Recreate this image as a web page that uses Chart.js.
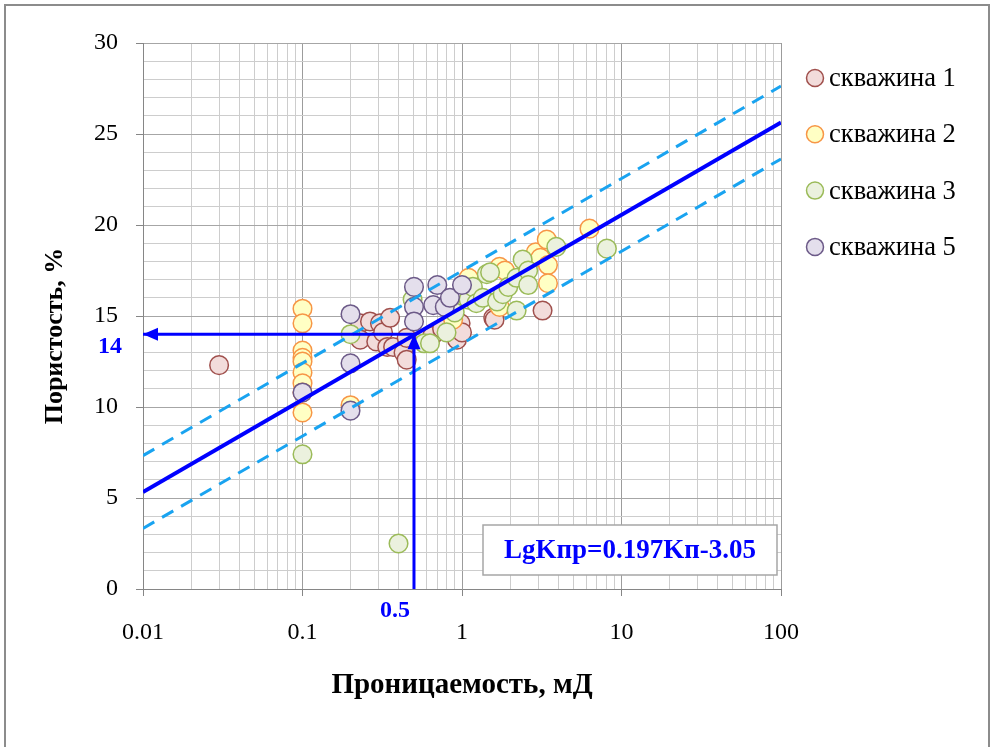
<!DOCTYPE html>
<html><head><meta charset="utf-8">
<script src="https://cdn.jsdelivr.net/npm/chart.js@4"></script>
<style>
html,body{margin:0;padding:0;background:#fff;overflow:hidden;}
#frame{position:absolute;left:4px;top:4px;width:986px;height:780px;border:2px solid #8c8c8c;box-sizing:border-box;}
#wrap{position:absolute;left:0;top:0;width:993px;height:747px;}
</style></head><body>
<div id="frame"></div>
<div id="wrap"><canvas id="c" width="993" height="747"></canvas></div>
<script>
// ---- data (permeability K, mD ; porosity P, %) ----
const well1K = [0.03,0.23,0.23,0.265,0.29,0.306,0.32,0.34,0.354,0.37,0.43,0.45,0.45,0.65,0.75,0.93,0.98,1.0,1.57,1.6,3.2];
const well1P = [12.3,14.6,13.7,14.7,13.6,14.6,14.1,13.3,14.9,13.3,13.0,12.6,13.8,13.9,14.3,13.7,14.6,14.1,14.9,14.8,15.3];
const well2K = [0.1,0.1,0.1,0.1,0.1,0.1,0.1,0.1,0.1,0.2,0.88,1.1,1.72,1.86,1.72,2.4,2.9,3.1,3.4,3.46,3.46,6.3];
const well2P = [15.4,14.6,13.1,12.7,12.5,11.9,11.3,10.8,9.7,10.1,14.8,17.1,17.7,17.5,15.5,17.2,18.5,18.2,19.2,17.8,16.8,19.8];
const well3K = [0.1,0.2,0.4,0.49,0.58,0.63,0.8,0.9,1.1,1.17,1.23,1.35,1.43,1.5,1.66,1.8,1.95,2.2,2.2,2.4,2.6,2.6,3.9,8.1];
const well3P = [7.4,14.0,2.5,15.9,13.5,13.5,14.1,15.2,15.9,16.6,15.7,16.0,17.3,17.4,15.8,16.2,16.6,17.1,15.3,18.1,17.5,16.7,18.8,18.7];
const well5K = [0.1,0.2,0.2,0.2,0.5,0.5,0.5,0.66,0.7,0.78,0.84,1.0];
const well5P = [10.8,15.1,12.4,9.8,16.6,15.5,14.7,15.6,16.7,15.5,16.0,16.7];
const wellNames = ['скважина 1','скважина 2','скважина 3','скважина 5'];
// regression LgKпр = 0.197Kп - 3.05 and ±2% band, end points
const fitK = [0.01, 100];
const fitP = [5.33, 25.63];
const upperP = [7.33, 27.63];
const lowerP = [3.33, 23.63];
// reading example: K = 0.5 -> Kп = 14
const readHK = [0.5, 0.01], readHP = [14, 14];
const readVK = [0.5, 0.5],  readVP = [0, 14];
const decadeTicks = [0.01, 0.1, 1, 10, 100];
const minorMult = [2,3,4,5,6,7,8,9];
const equationText = 'LgKпр=0.197Kп-3.05';
const yTitle = 'Пористость, %';
const xTitle = 'Проницаемость, мД';

const pts = (k, p) => k.map((x, i) => ({x: x, y: p[i]}));
const isDecade = v => Math.abs(Math.log10(v) - Math.round(Math.log10(v))) < 1e-6;
const xTickVals = [];
decadeTicks.forEach((d, i) => { xTickVals.push(d); if (i < decadeTicks.length - 1) minorMult.forEach(m => xTickVals.push(d * m)); });

const wellStyles = [
  {bg:'#f2dcdb', bd:'#a0504d'},
  {bg:'#ffffc4', bd:'#f79646'},
  {bg:'#ebf1de', bd:'#9bbb59'},
  {bg:'#e4dfec', bd:'#6c5a88'}
];
const wellData = [pts(well1K,well1P), pts(well2K,well2P), pts(well3K,well3P), pts(well5K,well5P)];

Chart.defaults.font.family = "'Liberation Serif', 'Times New Roman', serif";
Chart.defaults.color = '#000';

const datasets = wellData.map((d, i) => ({
  type: 'scatter', label: wellNames[i], data: d,
  backgroundColor: wellStyles[i].bg, borderColor: wellStyles[i].bd,
  pointRadius: 9.3, pointHoverRadius: 9.3, borderWidth: 1.5, pointBorderWidth: 1.5,
  order: 10 - i
}));
const lineDs = (k, p, color, w, dash, ord) => ({
  type: 'scatter', data: pts(k, p), showLine: true, pointRadius: 0, pointHoverRadius: 0,
  borderColor: color, borderWidth: w, borderDash: dash, fill: false, order: ord
});
datasets.push(lineDs(fitK, upperP, '#19a3f0', 3, [13, 9], 3));
datasets.push(lineDs(fitK, lowerP, '#19a3f0', 3, [13, 9], 3));
datasets.push(lineDs(fitK, fitP, '#0000ff', 4, [], 2));
datasets.push(lineDs(readHK, readHP, '#0000ff', 3, [], 1));
datasets.push(lineDs(readVK, readVP, '#0000ff', 3, [], 1));

function arrowHead(ctx, x0, y0, x1, y1, len, half) {
  const a = Math.atan2(y1 - y0, x1 - x0);
  ctx.save();
  ctx.translate(x1, y1); ctx.rotate(a);
  ctx.beginPath(); ctx.moveTo(0, 0); ctx.lineTo(-len, -half); ctx.lineTo(-len, half); ctx.closePath();
  ctx.fillStyle = '#0000ff'; ctx.fill();
  ctx.restore();
}

const overlay = {
  id: 'overlay',
  afterDatasetsDraw(chart) {
    const {ctx, chartArea: ca, scales: {x, y}} = chart;
    arrowHead(ctx, x.getPixelForValue(readHK[0]), y.getPixelForValue(readHP[0]), x.getPixelForValue(readHK[1]), y.getPixelForValue(readHP[1]), 15, 6.5);
    arrowHead(ctx, x.getPixelForValue(readVK[0]), y.getPixelForValue(readVP[0]), x.getPixelForValue(readVK[1]), y.getPixelForValue(readVP[1]), 15, 6.5);
    const bx = ca.right - 298, by = ca.bottom - 64, bw = 294, bh = 50;
    ctx.save();
    ctx.fillStyle = '#fff'; ctx.fillRect(bx, by, bw, bh);
    ctx.strokeStyle = '#a6a6a6'; ctx.lineWidth = 1.5; ctx.strokeRect(bx, by, bw, bh);
    ctx.fillStyle = '#0000ff'; ctx.font = "bold 27px 'Liberation Serif'";
    ctx.textAlign = 'center'; ctx.textBaseline = 'middle';
    ctx.fillText(equationText, bx + bw / 2, by + bh / 2 + 1);
    ctx.restore();
  },
  afterDraw(chart) {
    const {ctx, chartArea: ca, scales: {x, y}} = chart;
    ctx.save();
    ctx.fillStyle = '#0000ff'; ctx.font = "bold 24px 'Liberation Serif'";
    ctx.textAlign = 'center'; ctx.textBaseline = 'middle';
    ctx.fillText(String(readHP[0]), ca.left - 33, y.getPixelForValue(readHP[0]) + 13);
    ctx.fillText(String(readHK[0]), x.getPixelForValue(readHK[0]) - 19, ca.bottom + 22);
    // y axis title
    ctx.save();
    ctx.translate(ca.left - 88, (ca.top + ca.bottom) / 2 + 20);
    ctx.rotate(-Math.PI / 2);
    ctx.fillStyle = '#000'; ctx.font = "bold 26px 'Liberation Serif'";
    ctx.fillText(yTitle, 0, 0);
    ctx.restore();
    // legend
    ctx.font = "26.5px 'Liberation Serif'";
    ctx.textAlign = 'left';
    chart.data.datasets.slice(0, 4).forEach((ds, i) => {
      const cy = ca.top + 35 + i * 56.3, cx = ca.right + 34;
      ctx.beginPath(); ctx.arc(cx, cy, 8.5, 0, Math.PI * 2);
      ctx.fillStyle = ds.backgroundColor; ctx.fill();
      ctx.lineWidth = 1.5; ctx.strokeStyle = ds.borderColor; ctx.stroke();
      ctx.fillStyle = '#000';
      ctx.fillText(ds.label, cx + 14, cy + 1);
    });
    ctx.restore();
  }
};

new Chart(document.getElementById('c'), {
  type: 'scatter',
  data: {datasets},
  options: {
    responsive: false, animation: false,
    layout: {padding: {top: 43, right: 212, bottom: 0, left: 0}},
    plugins: {legend: {display: false}, tooltip: {enabled: false}},
    scales: {
      x: {
        type: 'logarithmic', min: 0.01, max: 100,
        afterBuildTicks: s => { s.ticks = xTickVals.map(v => ({value: v, major: isDecade(v)})); },
        afterFit: s => { s.height = 158; },
        ticks: {
          autoSkip: false, maxRotation: 0, padding: 22,
          font: {size: 24}, color: '#000',
          callback: v => isDecade(v) ? String(+v.toPrecision(3)) : ''
        },
        grid: {
          color: c => (c.tick && isDecade(c.tick.value)) ? '#9c9c9c' : '#cdcdcd',
          tickColor: c => (c.tick && isDecade(c.tick.value)) ? '#868686' : 'rgba(0,0,0,0)',
          tickLength: 7, lineWidth: 1
        },
        border: {color: '#868686', width: 1},
        title: {display: true, text: xTitle, font: {size: 29, weight: 'bold'}, color: '#000', padding: {top: 0, bottom: 44}}
      },
      y: {
        type: 'linear', min: 0, max: 30,
        afterFit: s => { s.width = 143; },
        ticks: {
          stepSize: 1, autoSkip: false, padding: 18,
          font: {size: 24}, color: '#000',
          callback: v => (v % 5 === 0) ? String(v) : ''
        },
        grid: {
          color: c => (c.tick && c.tick.value % 5 === 0) ? '#a6a6a6' : '#cdcdcd',
          tickColor: c => (c.tick && c.tick.value % 5 === 0) ? '#868686' : 'rgba(0,0,0,0)',
          tickLength: 7, lineWidth: 1
        },
        border: {color: '#868686', width: 1},
        title: {display: false}
      }
    }
  },
  plugins: [overlay]
});
</script>
</body></html>
